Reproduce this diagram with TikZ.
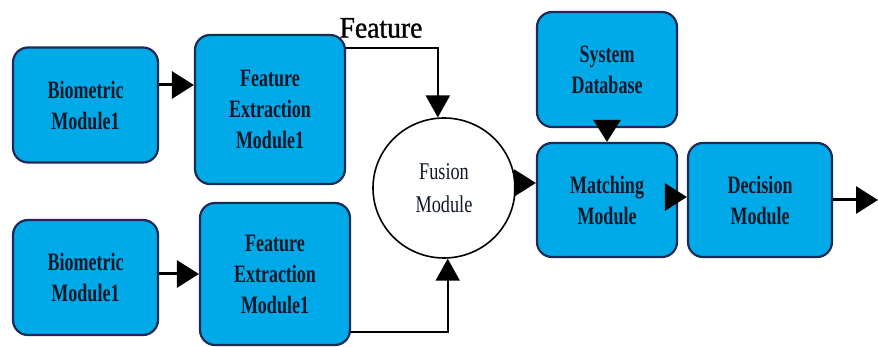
\documentclass[tikz,border=0pt]{standalone}
\usepackage{fontspec}
\setmainfont{Liberation Serif}
\newfontfamily\boxfont{Liberation Serif}[FakeStretch=0.72]
\newfontfamily\fusfont{Liberation Serif}[FakeStretch=0.76]
\newfontfamily\featfont{Liberation Serif}[FakeStretch=0.92,FakeBold=1]
\usetikzlibrary{arrows.meta,shapes.geometric,calc}
\definecolor{boxfill}{HTML}{00AAE8}
\definecolor{boxline}{HTML}{1B2B55}
\definecolor{txt}{HTML}{101828}
\begin{document}
\begin{tikzpicture}[x=1pt,y=-1pt,
  modbox/.style={draw=boxline,line width=2.2pt,fill=boxfill,rounded corners=15pt,
    align=center,text=txt,font=\boxfont\bfseries\fontsize{25}{31}\selectfont,inner sep=0pt},
  arr/.style={line width=3pt,-{Triangle[length=22pt,width=27pt]}},
  farr/.style={line width=2pt,-{Triangle[length=22pt,width=24pt]}}]
\useasboundingbox (0,0) rectangle (878,347);
\node[modbox,minimum width=145pt,minimum height=115pt] (b1) at (85.5,105) {Biometric\\Module1};
\node[modbox,minimum width=150pt,minimum height=149pt] (fe1) at (270,109.5) {Feature\\Extraction\\Module1};
\node[modbox,minimum width=145pt,minimum height=115pt] (b2) at (85.5,277.5) {Biometric\\Module1};
\node[modbox,minimum width=150pt,minimum height=142pt] (fe2) at (275,274) {Feature\\Extraction\\Module1};
\node[draw,ellipse,line width=1.6pt,fill=white,minimum width=142pt,minimum height=140pt,
  align=center,inner sep=0pt,font=\fusfont\fontsize{24}{33}\selectfont,text=txt] (fus) at (444,188) {Fusion\\Module};
\node[modbox,minimum width=140pt,minimum height=115pt] (db) at (607,69.5) {System\\Database};
\node[modbox,minimum width=140pt,minimum height=114pt] (mat) at (607,200) {Matching\\Module};
\node[modbox,minimum width=144pt,minimum height=114pt] (dec) at (760,200) {Decision\\Module};
\node[font=\featfont\fontsize{30}{30}\selectfont,inner sep=0pt] (feat) at (381,28) {Feature};
\coordinate (out) at (878,200);

\draw[arr] (b1.east |- 0,85) -- (fe1.west |- 0,85);
\draw[arr] (b2.east |- fe2.west) -- (fe2.west);
\draw[farr] (fe1.east |- 0,48) -| (fus.95);
\draw[farr] (fe2.east |- 0,332) -| (fus.-87);
\draw[arr] (fus.4) -- (mat.west |- fus.4);
\draw[arr] (db.south) -- (mat.north);
\draw[arr] (mat.east |- 0,197) -- (dec.west |- 0,197);
\draw[arr] (dec.east) -- (out);
\end{tikzpicture}
\end{document}
